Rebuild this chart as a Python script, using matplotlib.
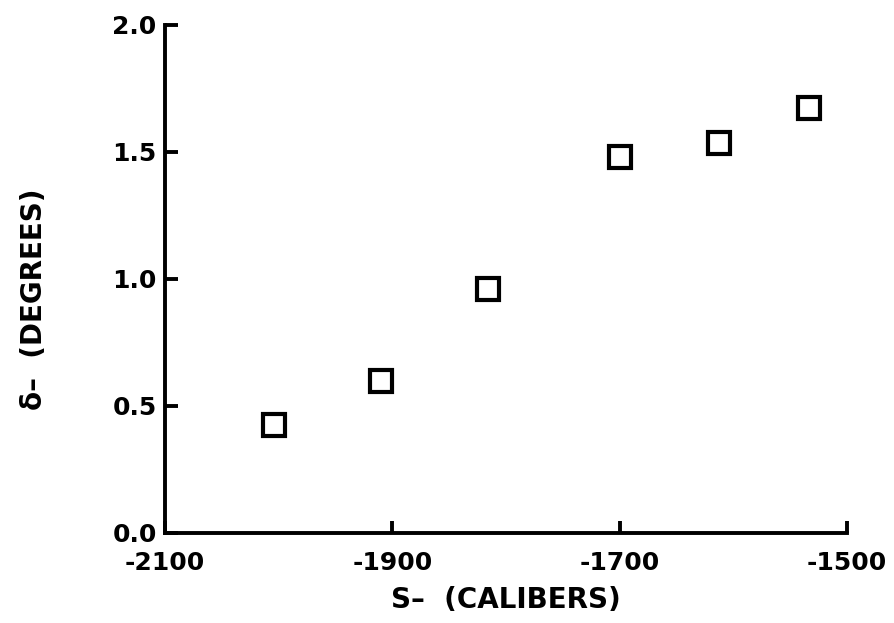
import matplotlib
matplotlib.use("Agg")
import matplotlib.pyplot as plt

# values
s_calibers = [-2004, -1910, -1816, -1700, -1613, -1533]
delta_deg = [0.425, 0.60, 0.96, 1.48, 1.534, 1.672]
x_ticks = [-2100, -1900, -1700, -1500]
y_ticks = [0.0, 0.5, 1.0, 1.5, 2.0]

fig = plt.figure(figsize=(8.94, 6.23), dpi=100)
ax = fig.add_axes([0.1846, 0.1445, 0.7628, 0.8155])

ax.plot(s_calibers, delta_deg, linestyle="none", marker="s", markersize=16,
        markerfacecolor="white", markeredgecolor="black", markeredgewidth=3)

ax.set_xlim(-2100, -1500)
ax.set_ylim(0.0, 2.0)
ax.set_xticks(x_ticks)
ax.set_xticklabels([str(t) for t in x_ticks])
ax.set_yticks(y_ticks)
ax.set_yticklabels([f"{t:.1f}" for t in y_ticks])

for side in ["top", "right"]:
    ax.spines[side].set_visible(False)
for side in ["left", "bottom"]:
    ax.spines[side].set_linewidth(2.8)

ax.tick_params(axis="both", direction="in", length=9, width=2.8,
               labelsize=18)
ax.tick_params(axis="x", pad=13)
ax.tick_params(axis="y", pad=6)
for lbl in ax.get_xticklabels() + ax.get_yticklabels():
    lbl.set_fontweight("bold")

ax.set_xlabel("S\u2013  (CALIBERS)", fontsize=20, fontweight="bold", labelpad=8)
ax.set_ylabel("\u03b4\u2013  (DEGREES)", fontsize=20, fontweight="bold")
ax.yaxis.set_label_coords(-0.172, 0.46)

fig.savefig("out.png", dpi=100)
